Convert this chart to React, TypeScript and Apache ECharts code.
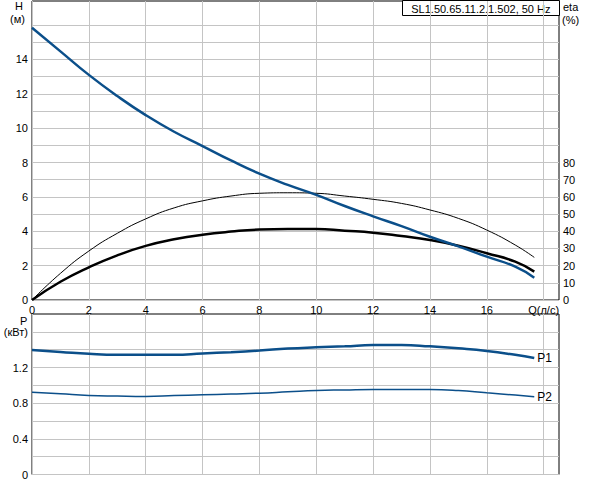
import * as echarts from 'echarts'
import { useEffect, useRef } from 'react'

// Подача, л/с
const flow = [0, 1, 2, 3, 4, 5, 6, 7, 8, 9, 10, 11, 12, 13, 14, 15, 16, 17, 17.67]
// Напор H, м
const head = [15.84, 14.47, 13.1, 11.87, 10.76, 9.79, 8.96, 8.12, 7.35, 6.7, 6.12, 5.47, 4.87, 4.3, 3.68, 3.12, 2.52, 1.94, 1.3]
// КПД насоса (тонкая линия), %
const etaPump = [0, 15.5, 28.5, 38.8, 47.2, 53.6, 57.7, 60.5, 62.1, 62.4, 62.1, 60.5, 58.6, 56.2, 52.4, 47.5, 40.7, 32, 24.8]
// КПД агрегата (толстая линия), %
const etaTotal = [0, 10.6, 19, 26, 31.5, 35.3, 38, 39.8, 41, 41.3, 41.3, 40.3, 39.2, 37.2, 34.9, 31.6, 27.2, 22.3, 16.5]
// Мощность P1 и P2, кВт
const p1 = [1.397, 1.375, 1.353, 1.342, 1.342, 1.342, 1.357, 1.372, 1.39, 1.412, 1.426, 1.437, 1.452, 1.452, 1.437, 1.415, 1.386, 1.342, 1.306]
const p2 = [0.923, 0.905, 0.887, 0.88, 0.876, 0.885, 0.894, 0.903, 0.912, 0.927, 0.942, 0.948, 0.953, 0.953, 0.953, 0.942, 0.916, 0.891, 0.872]

const title = 'SL1.50.65.11.2.1.502, 50 Hz'
const qMax = 18.54
const hMax = 17.4
const pMax = 1.8

const FONT = 'Liberation Sans, Arial, sans-serif'
const BLUE = '#0b4f8a'
const GRID = '#c4c4c4'

const pairs = (ys: number[]) => flow.map((q, i) => [q, ys[i]])

// горизонтальные линии через 1 м, без линии на 17
const hLineColors = Array.from({ length: 18 }, (_, i) => (i === 17 ? 'transparent' : GRID))

function PumpChart() {
  const chartRef = useRef<HTMLDivElement>(null)

  useEffect(() => {
    if (!chartRef.current) return
    const chart = echarts.init(chartRef.current, undefined, { renderer: 'svg' })

    const txt = { fontFamily: FONT, fontSize: 11, color: '#000' }

    chart.setOption({
      animation: false,
      backgroundColor: '#fff',
      textStyle: { fontFamily: FONT },
      grid: [
        { left: 32, right: 33, top: 1, height: 299, show: true, borderColor: '#000', borderWidth: 1, backgroundColor: '#fff', z: 0 },
        { left: 32, right: 33, top: 314, height: 165, show: true, borderColor: '#000', borderWidth: 1, backgroundColor: '#fff', z: 0 }
      ],
      xAxis: [
        {
          type: 'value', gridIndex: 0, min: 0, max: qMax, interval: 2,
          axisLine: { show: false }, axisTick: { show: false },
          axisLabel: { ...txt, margin: 4, showMaxLabel: false, formatter: (v: number) => (v === 18 ? 'Q(л/с)' : String(v)) },
          splitLine: { show: true, showMaxLine: false, lineStyle: { color: GRID, width: 1 } }
        },
        {
          type: 'value', gridIndex: 1, min: 0, max: qMax, interval: 2,
          axisLine: { show: false }, axisTick: { show: false }, axisLabel: { show: false },
          splitLine: { show: true, showMaxLine: false, lineStyle: { color: GRID, width: 1 } }
        }
      ],
      yAxis: [
        {
          type: 'value', gridIndex: 0, min: 0, max: hMax, interval: 1,
          axisLine: { show: false }, axisTick: { show: false },
          axisLabel: { ...txt, margin: 4, formatter: (v: number) => (v % 2 === 0 && v <= 14 ? String(v) : '') },
          splitLine: { show: true, showMaxLine: false, lineStyle: { color: hLineColors, width: 1 } }
        },
        {
          type: 'value', gridIndex: 0, min: 0, max: hMax * 10, interval: 10, position: 'right',
          axisLine: { show: false }, axisTick: { show: false },
          axisLabel: { ...txt, margin: 4, formatter: (v: number) => (v <= 80 ? String(v) : '') },
          splitLine: { show: false }
        },
        {
          type: 'value', gridIndex: 1, min: 0, max: pMax, interval: 0.2,
          axisLine: { show: false }, axisTick: { show: false },
          axisLabel: {
            ...txt, margin: 4,
            formatter: (v: number) => {
              const r = Math.round(v * 10) / 10
              if (r === 1.6) return '(кВт)'
              return [0, 0.4, 0.8, 1.2].includes(r) ? String(r) : ''
            }
          },
          splitLine: { show: true, showMaxLine: false, lineStyle: { color: GRID, width: 1 } }
        }
      ],
      series: [
        {
          name: 'eta pump', type: 'line', xAxisIndex: 0, yAxisIndex: 1, data: pairs(etaPump),
          smooth: true, symbol: 'none', lineStyle: { color: '#000', width: 1 }, z: 3
        },
        {
          name: 'eta total', type: 'line', xAxisIndex: 0, yAxisIndex: 1, data: pairs(etaTotal),
          smooth: true, symbol: 'none', lineStyle: { color: '#000', width: 2.5 }, z: 3
        },
        {
          name: 'H', type: 'line', xAxisIndex: 0, yAxisIndex: 0, data: pairs(head),
          smooth: true, symbol: 'none', lineStyle: { color: BLUE, width: 2.5 }, z: 4
        },
        {
          name: 'P1', type: 'line', xAxisIndex: 1, yAxisIndex: 2, data: pairs(p1),
          smooth: true, symbol: 'none', lineStyle: { color: BLUE, width: 2.5 }, z: 4,
          endLabel: { show: true, formatter: 'P1', ...txt, fontSize: 12, distance: 3 }
        },
        {
          name: 'P2', type: 'line', xAxisIndex: 1, yAxisIndex: 2, data: pairs(p2),
          smooth: true, symbol: 'none', lineStyle: { color: BLUE, width: 1.5 }, z: 4,
          endLabel: { show: true, formatter: 'P2', ...txt, fontSize: 12, distance: 3 }
        }
      ],
      graphic: [
        { type: 'text', left: 15, top: 0, style: { text: 'H', font: `11px ${FONT}`, fill: '#000' } },
        { type: 'text', left: 10, top: 13, style: { text: '(м)', font: `11px ${FONT}`, fill: '#000' } },
        { type: 'text', left: 563, top: 1, style: { text: 'eta', font: `11px ${FONT}`, fill: '#000' } },
        { type: 'text', left: 562, top: 14, style: { text: '(%)', font: `11px ${FONT}`, fill: '#000' } },
        { type: 'text', left: 20, top: 315, style: { text: 'P', font: `11px ${FONT}`, fill: '#000' } },
        {
          type: 'group', left: 402, top: 0, z: 10,
          children: [
            { type: 'rect', shape: { x: 0, y: 0, width: 157, height: 15 }, style: { fill: '#fff', stroke: '#000', lineWidth: 1 } },
            { type: 'text', x: 148, y: 8, style: { text: title, font: `11px ${FONT}`, fill: '#000', align: 'right', verticalAlign: 'middle' } }
          ]
        }
      ]
    })

    return () => {
      chart.dispose()
    }
  }, [])

  return <div ref={chartRef} style={{ position: 'fixed', left: 0, top: 0, width: 592, height: 480 }} />
}

export default function App() {
  return <PumpChart />
}
